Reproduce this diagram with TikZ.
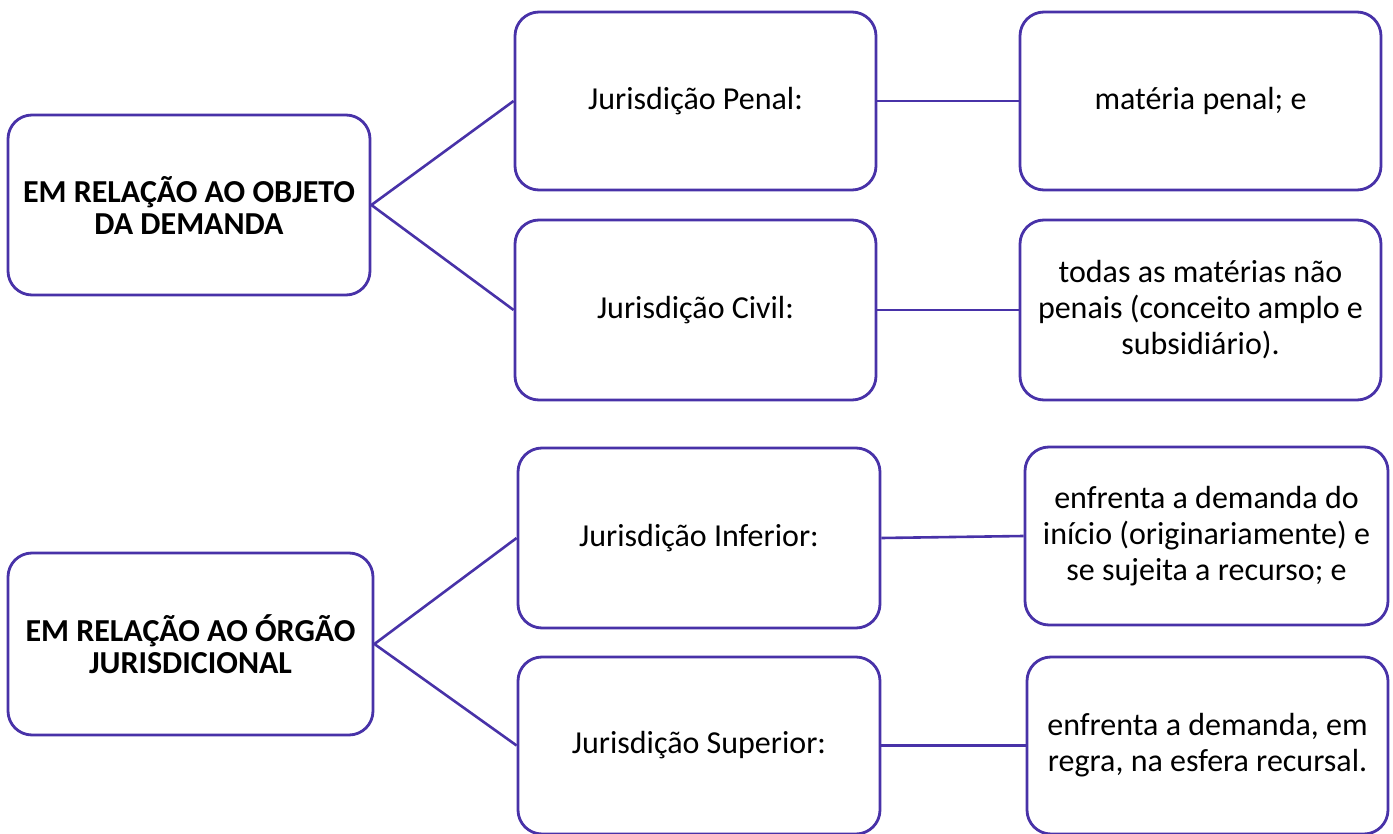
\documentclass[tikz,border=0pt]{standalone}
\usepackage{fontspec}
\setmainfont{Carlito}
\definecolor{boxc}{RGB}{72,50,168}
\begin{document}
\begin{tikzpicture}[x=1pt,y=-1pt,
  bx/.style={draw=boxc,line width=2.8pt,rounded corners=24pt,fill=white,
    minimum width=#1,align=center,inner sep=0pt,font=\fontsize{32}{36}\selectfont},
  cn/.style={draw=boxc,line width=2.6pt}]
\useasboundingbox (0,0) rectangle (1393,834);
\node[bx=362pt,minimum height=180pt,font=\fontsize{32}{32}\selectfont\bfseries] (a1) at (189,205) {EM RELAÇÃO AO OBJETO\\DA DEMANDA};
\node[bx=361pt,minimum height=178pt] (b1) at (695.5,101) {Jurisdição Penal:};
\node[bx=361pt,minimum height=180pt] (b2) at (695.5,310) {Jurisdição Civil:};
\node[bx=361pt,minimum height=178pt] (c1) at (1200.5,101) {matéria penal; e};
\node[bx=361pt,minimum height=180pt] (c2) at (1200.5,310) {todas as matérias não\\penais (conceito amplo e\\subsidiário).};
\node[bx=365pt,minimum height=182pt,font=\fontsize{32}{32}\selectfont\bfseries] (a2) at (190.5,644) {EM RELAÇÃO AO ÓRGÃO\\JURISDICIONAL};
\node[bx=362pt,minimum height=180pt] (b3) at (699,538) {Jurisdição Inferior:};
\node[bx=362pt,minimum height=177pt] (b4) at (699,745.5) {Jurisdição Superior:};
\node[bx=363pt,minimum height=178pt] (c3) at (1206.5,536) {enfrenta a demanda do\\início (originariamente) e\\se sujeita a recurso; e};
\node[bx=361pt,minimum height=177pt] (c4) at (1207.5,745.5) {enfrenta a demanda, em\\regra, na esfera recursal.};
\draw[cn] (a1.east) -- (b1.west);
\draw[cn] (a1.east) -- (b2.west);
\draw[cn] (b1.east) -- (c1.west);
\draw[cn] (b2.east) -- (c2.west);
\draw[cn] (a2.east) -- (b3.west);
\draw[cn] (a2.east) -- (b4.west);
\draw[cn] (b3.east) -- (c3.west);
\draw[cn] (b4.east) -- (c4.west);
\end{tikzpicture}
\end{document}
